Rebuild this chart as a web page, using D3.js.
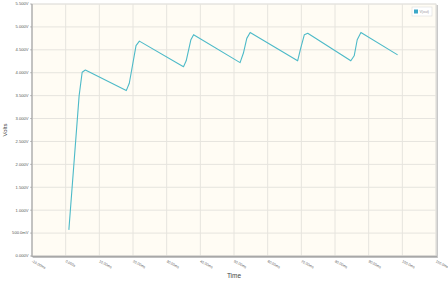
<!DOCTYPE html>
<html>
<head>
<meta charset="utf-8">
<script src="https://cdn.jsdelivr.net/npm/d3@7"></script>
<style>
  body { margin: 0; background: #fff; }
  svg { display: block; font-family: 'Liberation Sans', Arial, sans-serif; }
</style>
</head>
<body>
<div id="chart"></div>
<script>
// time in ms, volts
const times = [0.95, 4.0, 4.9, 5.85, 18.0, 18.9, 20.9, 21.9, 35.0, 35.8, 37.2, 38.0,
  51.8, 52.8, 53.8, 54.8, 68.9, 69.8, 70.9, 71.9, 84.7, 85.7, 86.6, 87.7, 98.6];
const volts = [0.57, 3.5, 4.01, 4.06, 3.61, 3.77, 4.59, 4.69, 4.13, 4.26, 4.72, 4.83,
  4.22, 4.43, 4.75, 4.88, 4.26, 4.53, 4.83, 4.86, 4.26, 4.37, 4.72, 4.88, 4.39];
const yTicks = [0, 0.5, 1, 1.5, 2, 2.5, 3, 3.5, 4, 4.5, 5, 5.5];
const yTickLabels = ['0.000V', '500.0mV', '1.000V', '1.500V', '2.000V', '2.500V',
  '3.000V', '3.500V', '4.000V', '4.500V', '5.000V', '5.500V'];
const xTicks = [-10, 0, 10, 20, 30, 40, 50, 60, 70, 80, 90, 100, 110];
const xTickLabels = ['-10.00ms', '0.000s', '10.00ms', '20.00ms', '30.00ms', '40.00ms',
  '50.00ms', '60.00ms', '70.00ms', '80.00ms', '90.00ms', '100.0ms', '110.0ms'];
const seriesName = 'V(out)';

const width = 448, height = 283;
const mLeft = 32, mRight = 436, mTop = 4, mBottom = 256;

const svg = d3.select('#chart').append('svg')
  .attr('width', width).attr('height', height);

const x = d3.scaleLinear().domain([-10, 110]).range([mLeft, mRight]);
const y = d3.scaleLinear().domain([0, 5.5]).range([mBottom, mTop]);

// plot background with shadow
svg.append('rect')
  .attr('x', mLeft + 1).attr('y', mTop + 1)
  .attr('width', mRight - mLeft + 1).attr('height', mBottom - mTop + 1)
  .attr('fill', '#c8c8c8');
svg.append('rect')
  .attr('x', mLeft).attr('y', mTop)
  .attr('width', mRight - mLeft).attr('height', mBottom - mTop)
  .attr('fill', '#fffcf4')
  .attr('stroke', '#dcdcdc').attr('stroke-width', 0.8);

// grid
svg.append('g').selectAll('line').data(yTicks).enter().append('line')
  .attr('x1', mLeft).attr('x2', mRight)
  .attr('y1', d => y(d)).attr('y2', d => y(d))
  .attr('stroke', '#e6e4de').attr('stroke-width', 1);
svg.append('g').selectAll('line').data(xTicks).enter().append('line')
  .attr('y1', mTop).attr('y2', mBottom)
  .attr('x1', d => x(d)).attr('x2', d => x(d))
  .attr('stroke', '#e6e4de').attr('stroke-width', 1);

// axes lines
svg.append('line')
  .attr('x1', mLeft).attr('x2', mLeft).attr('y1', mTop).attr('y2', mBottom + 1)
  .attr('stroke', '#a8a8a8').attr('stroke-width', 1.2);
svg.append('line')
  .attr('x1', mLeft).attr('x2', mRight + 1).attr('y1', mBottom + 0.5).attr('y2', mBottom + 0.5)
  .attr('stroke', '#a8a8a8').attr('stroke-width', 1.5);

// y tick labels
svg.append('g').selectAll('text').data(yTicks).enter().append('text')
  .attr('x', mLeft - 3.5).attr('y', d => y(d) + 1.4)
  .attr('text-anchor', 'end')
  .attr('font-size', 4.1).attr('fill', '#555')
  .text((d, i) => yTickLabels[i]);
svg.append('g').selectAll('line').data(yTicks).enter().append('line')
  .attr('x1', mLeft - 2).attr('x2', mLeft)
  .attr('y1', d => y(d)).attr('y2', d => y(d))
  .attr('stroke', '#999').attr('stroke-width', 0.6);

// x tick labels
svg.append('g').selectAll('text').data(xTicks).enter().append('text')
  .attr('transform', d => 'translate(' + (x(d) - 0.5) + ',' + (mBottom + 6) + ') rotate(28)')
  .attr('font-size', 3.6).attr('fill', '#555')
  .text((d, i) => xTickLabels[i]);

// axis titles
svg.append('text')
  .attr('x', (mLeft + mRight) / 2).attr('y', 278)
  .attr('text-anchor', 'middle')
  .attr('font-size', 6.5).attr('fill', '#444')
  .text('Time');
svg.append('text')
  .attr('transform', 'translate(7,' + (mTop + mBottom) / 2 + ') rotate(-90)')
  .attr('text-anchor', 'middle')
  .attr('font-size', 6).attr('fill', '#444')
  .text('Volts');

// series
const pts = times.map((t, i) => [t, volts[i]]);
svg.append('path')
  .datum(pts)
  .attr('fill', 'none')
  .attr('stroke', '#4dbac8')
  .attr('stroke-width', 1.1)
  .attr('stroke-linejoin', 'round')
  .attr('d', d3.line().x(d => x(d[0])).y(d => y(d[1])));

// legend
const lg = svg.append('g').attr('transform', 'translate(412,7)');
lg.append('rect').attr('width', 20).attr('height', 9)
  .attr('fill', '#fff').attr('stroke', '#dcdcdc').attr('stroke-width', 0.6);
lg.append('rect').attr('x', 2).attr('y', 2.5).attr('width', 4).attr('height', 4)
  .attr('fill', '#3aa8c8');
lg.append('text').attr('x', 7.5).attr('y', 6)
  .attr('font-size', 3.5).attr('fill', '#999')
  .text(seriesName);
</script>
</body>
</html>
